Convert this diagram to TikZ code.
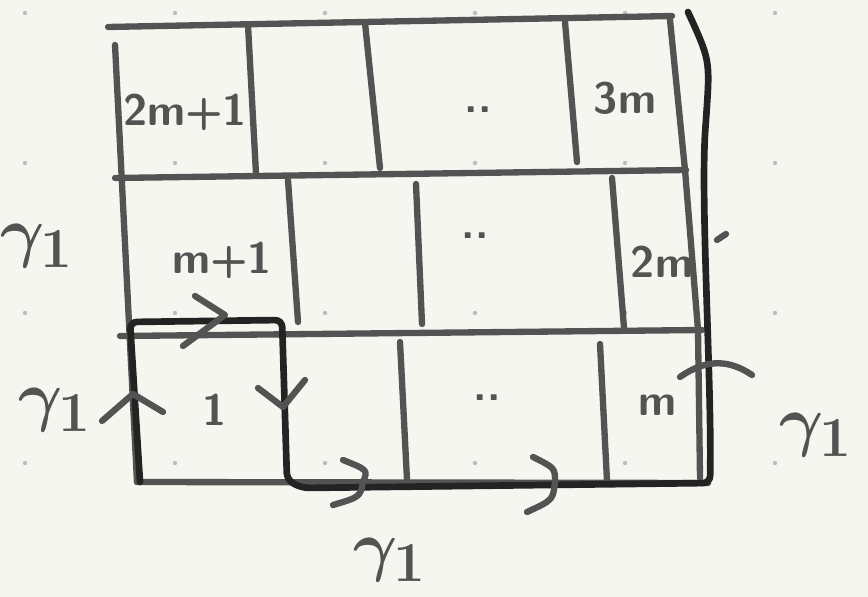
\documentclass[tikz,border=0pt]{standalone}
\usepackage{graphicx}
\usepackage{bm}
\usetikzlibrary{positioning}

\definecolor{paper}{HTML}{F6F6F1}
\definecolor{pen}{HTML}{535353}
\definecolor{ink}{HTML}{232323}
\definecolor{dotgrey}{HTML}{BDBDBD}

\newcommand{\gammaone}{\scalebox{1.55}{$\bm{\gamma}_{\mathbf{1}}$}}

\tikzset{
  gridline/.style={pen, line width=3.6pt, line cap=round, line join=round},
  loopline/.style={ink, line width=3.8pt, line cap=round, line join=round, rounded corners=4pt},
  chevron/.style={pen, line width=3.6pt, line cap=round, line join=round},
  cell/.style={pen, font=\sffamily\bfseries\fontsize{25}{27}\selectfont},
  gammalabel/.style={pen, font=\Huge},
}

\begin{document}
\begin{tikzpicture}[x=0.02cm, y=-0.02cm]

\fill[paper] (0,0) rectangle (868,597);
\useasboundingbox (0,0) rectangle (868,597);

% dot grid of the paper
\foreach \x in {25,175,325,475,625,775}
  \foreach \y in {13,163,313,463}
    \fill[dotgrey] (\x,\y) circle (2.2);

% corners and row borders
\coordinate (tl) at (108,27);
\coordinate (tr) at (672,16);
\coordinate (r1l) at (115,178);
\coordinate (r1r) at (686,170);
\coordinate (r2l) at (120,336);
\coordinate (r2r) at (702,330);
\coordinate (bl) at (137,482);
\coordinate (br) at (708,483);

\draw[gridline] (tl) -- (tr);
\draw[gridline] (r1l) -- (r1r);
\draw[gridline] (r2l) -- (r2r);
\draw[gridline] (bl) -- (br);
\draw[gridline] (115,45) -- (bl);
\draw[gridline] (670,20) -- (685,170) -- (698,330) -- (700,478);

% walls of the cells
\draw[gridline] (248,25) -- (256,174);
\draw[gridline] (365,23) -- (380,168);
\draw[gridline] (565,22) -- (577,162);
\draw[gridline] (288,180) -- (298,322);
\draw[gridline] (416,184) -- (422,324);
\draw[gridline] (612,178) -- (624,328);
\draw[gridline] (400,342) -- (407,480);
\draw[gridline] (600,344) -- (607,481);

% cell labels
\node[cell] (c2m1) at (185,112) {2m+1};
\node[cell] (cdots3) at (478,110) {..};
\node[cell] (c3m) at (625,98) {3m};
\node[cell] (cm1) at (222,260) {m+1};
\node[cell] (cdots2) at (475,236) {..};
\node[cell] (c2m) at (662,262) {2m};
\node[cell] (c1) at (215,410) {1};
\node[cell] (cdots1) at (487,398) {..};
\node[cell] (cm) at (658,405) {m};

% the loop gamma_1
\coordinate (g0) at (140,482);
\coordinate (g1) at (130,322);
\coordinate (g2) at (282,320);
\coordinate (g3) at (287,480);
\coordinate (g4) at (302,488);
\coordinate (g5) at (710,483);
\coordinate (g7) at (688,12);
\draw[loopline] (g0) -- (g1) -- (g2) -- (g3) -- (g4) -- (g5)
  .. controls (712,380) and (700,200) .. (706,120)
  .. controls (710,60) .. (g7);

% direction marks
\draw[chevron] (102,421) -- (133,394) -- (163,412);
\draw[chevron] (195,296) -- (225,315) -- (183,346);
\draw[chevron] (258,388) -- (283,407) -- (305,380);
\draw[chevron] (343,460) .. controls (368,470) .. (363,482) .. controls (360,497) .. (333,505);
\draw[chevron] (533,457) .. controls (555,468) .. (555,482) .. controls (553,500) .. (527,512);
\draw[chevron] (680,377) .. controls (707,358) and (730,360) .. (752,375);
\draw[chevron] (717,240) -- (726,234);

% labels of gamma_1
\node[gammalabel] (gleft) at (55,410) {\gammaone};
\node[gammalabel] (gbottom) at (390,560) {\gammaone};
\node[gammalabel] (gright) at (816,435) {\gammaone};
\node[gammalabel, anchor=west, inner sep=0pt] (gedge) at (0,246) {\gammaone};

\end{tikzpicture}
\end{document}
